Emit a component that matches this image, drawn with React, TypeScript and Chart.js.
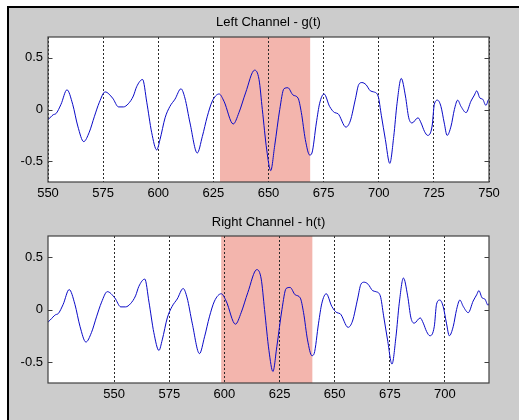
import React, { useEffect, useRef } from "react";
import { Chart, registerables } from "chart.js";

// ---- data ----
const sampleTimes = [
  549, 550, 552.4, 553.6, 555.9, 558.6, 561.2, 563.5, 566.2, 568.7, 571, 573.3, 575.9, 579.3, 582, 584.2,
  586.4, 588.7, 590.2, 592.9, 594.8, 597, 599.3, 600.8, 603.1, 605.3, 607.6, 610.3, 612.1, 614.4, 617.7,
  620, 622.2, 624.5, 627.6, 629.8, 634, 636.6, 639.6, 643.7, 645.7, 647.2, 649.2, 651, 652.8, 655.1, 657,
  658.8, 661.1, 663.4, 664.9, 666.7, 668.7, 669.7, 671.7, 673.2, 675.2, 677.7, 680, 681.5, 685.1, 687.1,
  689.4, 690.9, 692.4, 694.2, 696.2, 697.7, 699.7, 701.2, 703, 705, 706.8, 708.3, 710.2, 712.1, 713.6,
  715.1, 717.8, 719.2, 720.7, 722.2, 724.2, 725.2, 726.7, 728.2, 729.7, 731, 732.8, 734.3, 735.8, 737.3,
  739.6, 741.8, 743.4, 744.4, 745.9, 747.1, 748.6, 750, 751,
];
const leftValues = [
  -0.12, -0.1, -0.05, -0.04, 0.05, 0.19, 0.05, -0.16, -0.31, -0.22, -0.07, 0.07, 0.17, 0.11, 0.025, 0.025,
  0.055, 0.13, 0.22, 0.29, 0.07, -0.22, -0.39, -0.29, -0.08, 0.03, 0.1, 0.2, 0.11, -0.13, -0.42,
  -0.26, -0.07, 0.08, 0.15, 0.08, -0.14, -0.03, 0.16, 0.38, 0.29, 0.0, -0.39, -0.59, -0.35, 0.0, 0.2,
  0.21, 0.14, 0.11, -0.03, -0.29, -0.44, -0.42, -0.13, 0.06, 0.15, 0.03, -0.03, -0.04, -0.17, -0.11,
  0.1, 0.24, 0.26, 0.24, 0.18, 0.17, 0.13, -0.06, -0.29, -0.52, -0.26, 0.06, 0.3, 0.13, -0.08,
  -0.13, -0.08, -0.13, -0.21, -0.25, -0.16, 0.05, 0.09, 0.03, -0.13, -0.25, -0.16, 0.0, 0.09, 0.03,
  -0.03, 0.08, 0.14, 0.18, 0.11, 0.1, 0.04, 0.1, 0.06,
];
// right channel h(t) is the same recording, delayed
const rightLag = 29;
const rightValues = leftValues;

const leftTitle = "Left Channel - g(t)";
const rightTitle = "Right Channel - h(t)";
const leftXRange = [550, 750];
const rightXRange = [520, 720];
const leftXTicks = [550, 575, 600, 625, 650, 675, 700, 725, 750];
const rightXTicks = [550, 575, 600, 625, 650, 675, 700];
const yRange = [-0.7, 0.7];
const yTicks = [-0.5, 0, 0.5];
const yTickLabels = ["-0.5", "0", "0.5"];
const leftWindow = [628, 669];
const rightWindow = [598.5, 640];

// ---- styling ----
const FONT = "'Liberation Sans', Arial, Helvetica, sans-serif";
const LINE_COLOR = "#0a0ac8";
const WINDOW_COLOR = "#f3b5ad";
const FRAME_COLOR = "#404040";
const AXIS_W = 48;

const framePlugin = {
  id: "matlabFrame",
  beforeDraw(chart: any) {
    const { ctx, chartArea: a } = chart;
    ctx.save();
    ctx.fillStyle = "#ffffff";
    ctx.fillRect(a.left, a.top, a.right - a.left, a.bottom - a.top);
    ctx.restore();
  },
  afterDraw(chart: any) {
    const { ctx, chartArea: a, scales } = chart;
    const ys = scales.y;
    ctx.save();
    ctx.strokeStyle = FRAME_COLOR;
    ctx.lineWidth = 1;
    ctx.beginPath();
    for (const v of yTicks) {
      const py = Math.round(ys.getPixelForValue(v)) + 0.5;
      ctx.moveTo(a.left, py);
      ctx.lineTo(a.left + 4.5, py);
      ctx.moveTo(a.right, py);
      ctx.lineTo(a.right - 4.5, py);
    }
    ctx.stroke();
    ctx.lineWidth = 1.2;
    ctx.strokeRect(a.left, a.top, a.right - a.left, a.bottom - a.top);
    ctx.restore();
  },
};

Chart.register(framePlugin);
Chart.register(...registerables);

type PlotProps = {
  title: string;
  times: number[];
  values: number[];
  lag: number;
  xRange: number[];
  xTicks: number[];
  windowRange: number[];
  titlePad: { top: number; bottom: number };
  axisHeight: number;
  labelPad: number;
};

function ChannelPlot(p: PlotProps) {
  const ref = useRef<HTMLCanvasElement | null>(null);
  useEffect(() => {
    if (!ref.current) return;
    const points = p.times.map((t, i) => ({ x: t - p.lag, y: p.values[i] }));
    const chart = new Chart(ref.current, {
      type: "line",
      data: {
        datasets: [
          {
            data: points,
            borderColor: LINE_COLOR,
            borderWidth: 1,
            pointRadius: 0,
            cubicInterpolationMode: "monotone",
            fill: false,
            order: 1,
          },
          {
            data: [
              { x: p.windowRange[0], y: yRange[1] },
              { x: p.windowRange[1], y: yRange[1] },
            ],
            borderWidth: 0,
            borderColor: "rgba(0,0,0,0)",
            backgroundColor: WINDOW_COLOR,
            pointRadius: 0,
            fill: "start",
            order: 2,
          },
        ],
      },
      options: {
        responsive: false,
        animation: false,
        events: [],
        layout: { padding: 0 },
        plugins: {
          legend: { display: false },
          tooltip: { enabled: false },
          filler: { drawTime: "beforeDraw" },
          title: {
            display: true,
            text: p.title,
            color: "#000",
            font: { family: FONT, size: 13, weight: "normal" },
            padding: p.titlePad,
          },
        },
        scales: {
          x: {
            type: "linear",
            min: p.xRange[0],
            max: p.xRange[1],
            afterBuildTicks: (s: any) => {
              s.ticks = p.xTicks.map((v) => ({ value: v }));
            },
            afterFit: (s: any) => {
              s.height = p.axisHeight;
            },
            ticks: {
              color: "#000",
              font: { family: FONT, size: 13 },
              padding: p.labelPad,
              maxRotation: 0,
              autoSkip: false,
              callback: (v: any) => String(v),
            },
            grid: { color: "#2a2a2a", lineWidth: 1, drawTicks: false },
            border: { display: false, dash: [2, 2] },
          },
          y: {
            type: "linear",
            position: "left",
            min: yRange[0],
            max: yRange[1],
            afterBuildTicks: (s: any) => {
              s.ticks = yTicks.map((v) => ({ value: v }));
            },
            afterFit: (s: any) => {
              s.width = AXIS_W;
            },
            ticks: {
              color: "#000",
              font: { family: FONT, size: 13 },
              padding: 5,
              callback: (v: any) => {
                const i = yTicks.indexOf(Number(v));
                return i >= 0 ? yTickLabels[i] : "";
              },
            },
            grid: { display: false, drawTicks: false },
            border: { display: false },
          },
          // empty right-hand box, mirrors the left axis so the title centres over the plot
          y2: {
            type: "linear",
            position: "right",
            display: true,
            min: yRange[0],
            max: yRange[1],
            afterFit: (s: any) => {
              s.width = AXIS_W;
            },
            ticks: { display: false },
            grid: { display: false, drawTicks: false },
            border: { display: false },
          },
        },
      },
    } as any);
    return () => chart.destroy();
  }, []);
  return <canvas ref={ref} width={537} height={210} style={{ display: "block", width: 537, height: 210 }} />;
}

export default function App() {
  return (
    <div style={{ position: "fixed", left: 0, top: 0, width: 519, height: 420, background: "#fff", overflow: "hidden" }}>
      <div
        style={{
          position: "absolute",
          left: 7,
          top: 6,
          right: 0,
          bottom: 0,
          background: "#cccccc",
          borderLeft: "2px solid #000",
          borderTop: "2px solid #000",
        }}
      />
      <div style={{ position: "absolute", left: 0, top: 0 }}>
        <ChannelPlot
          title={leftTitle}
          times={sampleTimes}
          values={leftValues}
          lag={0}
          xRange={leftXRange}
          xTicks={leftXTicks}
          windowRange={leftWindow}
          titlePad={{ top: 14.5, bottom: 6.9 }}
          axisHeight={28}
          labelPad={4}
        />
      </div>
      <div style={{ position: "absolute", left: 0, top: 210 }}>
        <ChannelPlot
          title={rightTitle}
          times={sampleTimes}
          values={rightValues}
          lag={rightLag}
          xRange={rightXRange}
          xTicks={rightXTicks}
          windowRange={rightWindow}
          titlePad={{ top: 4.8, bottom: 5.6 }}
          axisHeight={37}
          labelPad={3.5}
        />
      </div>
    </div>
  );
}
